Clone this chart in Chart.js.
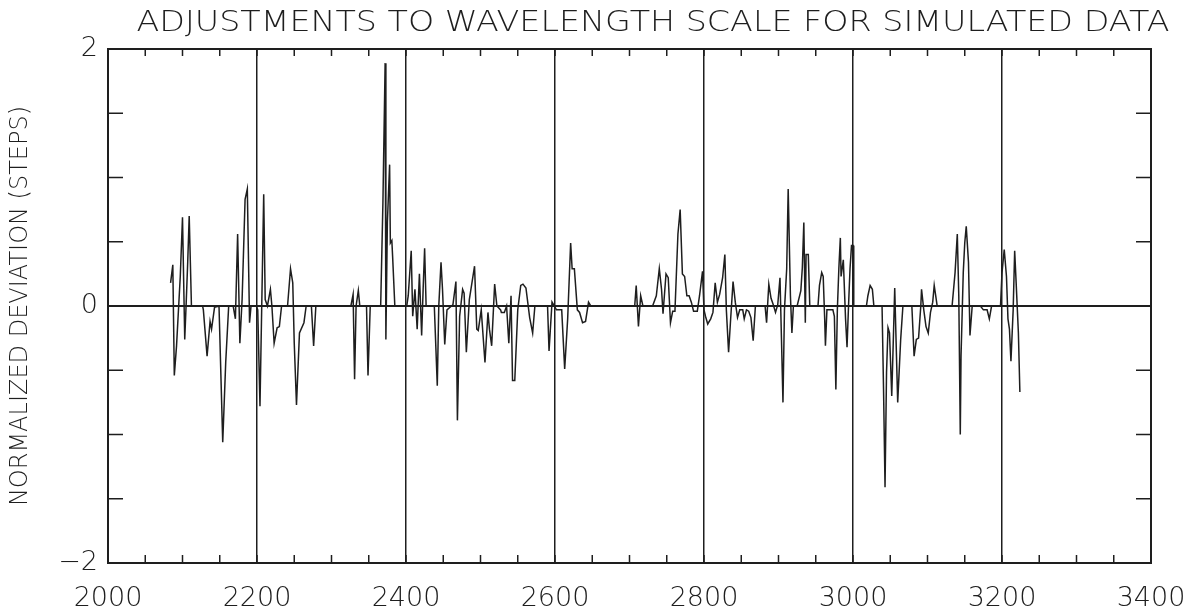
<!DOCTYPE html>
<html>
<head>
<meta charset="utf-8">
<script src="https://cdn.jsdelivr.net/npm/chart.js@4/dist/chart.umd.min.js"></script>
<style>
  html, body { margin: 0; padding: 0; background: #fff; }
  #wrap { width: 1195px; height: 610px; position: relative; }
</style>
</head>
<body>
<div id="wrap"><canvas id="devChart"></canvas></div>
<script>
// wavelength (x) and normalized deviation in steps (y)
var wavelength = [
  2084,2087,2089,2092,2097,2100,2103,2105,2107,2109,2112,
  2127,2128,2133,2137,2139,2143,2149,2154,2158,2162,
  2168,2171,2174,2177,2180,2184,2187,2190,2192,
  2199,2201,2204,2209,2211,2214,2218,2220,2223,2227,2230,2233,
  2241,2245,2248,2250,2253,2257,2263,2266,2273,2276,2279,
  2326,2329,2331,2333,2336,2338,2347,2349,2352,
  2366,2369,2372,2373,2375,2378,2379,2381,2382,2385,
  2401,2403,2407,2409,2412,2415,2418,2421,2423,2425,2427,
  2438,2442,2444,2447,2449,2452,2455,2463,2467,2469,2472,2476,2478,2481,2485,
  2492,2495,2497,2501,2506,2510,2512,2515,2519,2522,2527,2528,2532,2535,
  2538,2541,2543,2546,2550,2554,2557,2561,2566,2570,2573,
  2590,2592,2596,2599,2602,2609,2613,2617,2621,2623,2626,2630,2633,2637,2641,2645,2648,
  2707,2709,2712,2715,2718,2731,2736,2740,2743,2745,2749,2752,2755,2758,2761,
  2765,2768,2771,2774,2777,2780,2783,2786,2791,2794,2798,2800,2802,2805,2809,
  2812,2815,2818,2821,2825,2828,2830,2833,2836,2839,2842,2845,2848,2852,2854,
  2857,2860,2863,2866,2869,
  2882,2884,2887,2890,2893,2896,2899,2902,2904,2906,2908,2911,2913,2916,2918,
  2920,2925,2930,2932,2934,2936,2937,2940,2942,
  2953,2955,2958,2960,2962,2963,2965,2973,2975,2977,2979,2981,2983,2984,2987,
  2990,2992,2994,2996,2998,3000,3001,
  3018,3020,3023,3026,3028,3039,3041,3043,3045,3047,3049,3052,3054,3056,3058,
  3060,3064,3067,3079,3082,3085,3088,3091,3092,3095,3098,3101,3104,3107,3109,
  3111,3113,
  3133,3137,3140,3142,3144,3145,3148,3150,3152,3155,3157,3160,3171,3175,3180,
  3183,3186,3198,3200,3203,3206,3208,3210,3212,3215,3217,3219,3222,3224
];
var deviation = [
  0.18,0.32,-0.54,-0.31,0.23,0.69,-0.26,0.03,0.34,0.70,0,
  0,-0.03,-0.39,-0.12,-0.18,-0.01,0,-1.06,-0.44,0,
  0,-0.10,0.56,-0.29,0.05,0.83,0.91,-0.13,0,
  0,-0.03,-0.78,0.87,0.05,0,0.13,0,-0.29,-0.17,-0.16,0,
  0,0.29,0.18,-0.29,-0.77,-0.21,-0.13,0,0,-0.31,0,
  0,0.09,-0.57,0,0.12,0,0,-0.54,0,
  0,0.80,1.89,-0.26,0.65,1.10,0.49,0.51,0.39,0,
  0,0.08,0.43,-0.08,0.13,-0.18,0.25,-0.23,0.13,0.45,0,
  0,-0.62,0,0.34,0.13,-0.30,-0.03,0.01,0.19,-0.89,-0.08,0.13,0.10,-0.36,0.05,
  0.31,-0.18,-0.19,-0.03,-0.44,-0.05,-0.18,-0.31,0.17,0,-0.03,-0.05,-0.05,0,
  -0.29,0.08,-0.58,-0.58,-0.03,0.16,0.17,0.14,-0.09,-0.21,0,
  0,-0.35,0.03,0,-0.03,-0.03,-0.49,-0.10,0.49,0.29,0.29,-0.03,-0.05,-0.13,-0.12,0.03,0,
  0,0.16,-0.16,0.08,0,0,0.08,0.29,0.13,-0.06,0.25,0.22,-0.13,-0.04,-0.04,
  0.56,0.75,0.25,0.23,0.08,0.08,0.03,-0.04,-0.04,0.08,0.27,-0.03,-0.08,-0.14,-0.10,
  -0.05,0.18,0.03,0.09,0.22,0.40,-0.03,-0.36,-0.08,0.19,0.03,-0.09,-0.03,-0.03,-0.10,
  -0.03,-0.04,-0.09,-0.27,0,
  0,-0.13,0.17,0.06,0.01,-0.05,0.01,0.22,-0.26,-0.75,-0.03,0.29,0.91,0.08,-0.21,
  0,0,0.12,0.30,0.65,-0.13,0.40,0.40,0,
  0,0.16,0.26,0.23,-0.10,-0.31,-0.03,-0.03,-0.08,-0.65,-0.03,0.29,0.53,0.23,0.36,
  -0.10,-0.32,0,0.29,0.47,0.47,0,
  0,0.08,0.16,0.13,0,0,-0.65,-1.41,-0.52,-0.17,-0.21,-0.70,-0.29,0.14,-0.31,
  -0.75,-0.26,0,0,-0.39,-0.26,-0.25,0,0.13,-0.03,-0.16,-0.21,-0.05,0.03,0.16,
  0.08,0,
  0,0.26,0.56,0.08,-1.00,-0.39,0.26,0.49,0.62,0.34,-0.23,0,0,-0.03,-0.03,
  -0.10,0,0,0.26,0.44,0.23,-0.10,-0.18,-0.43,-0.03,0.43,0.18,-0.21,-0.67
];

var xRange = [2000, 3400];
var yRange = [-2, 2];
var xMinorTicks = [];   // small ticks every 50 on top and bottom
for (var t = 2050; t < 3400; t += 50) xMinorTicks.push(t);
var yMinorTicks = [-1.5, -1, -0.5, 0.5, 1, 1.5];

var titleText = "ADJUSTMENTS TO WAVELENGTH SCALE FOR SIMULATED DATA";
var yTitle = "NORMALIZED DEVIATION (STEPS)";

var ink = "#1e1e1e";
var fontFamily = "'DejaVu Sans', sans-serif";

var points = [];
for (var i = 0; i < wavelength.length; i++) {
  points.push({ x: wavelength[i], y: deviation[i] });
}

// frame, inward ticks and title
var framePlugin = {
  id: "frame",
  afterDatasetsDraw: function(chart) {
    var ctx = chart.ctx;
    var a = chart.chartArea;
    var xs = chart.scales.x, ys = chart.scales.y;
    ctx.save();
    ctx.strokeStyle = ink;
    ctx.lineWidth = 1.5;
    ctx.beginPath();
    xMinorTicks.forEach(function(v) {
      var px = xs.getPixelForValue(v);
      ctx.moveTo(px, a.bottom); ctx.lineTo(px, a.bottom - 8);
      ctx.moveTo(px, a.top); ctx.lineTo(px, a.top + 7);
    });
    yMinorTicks.forEach(function(v) {
      var py = ys.getPixelForValue(v);
      ctx.moveTo(a.left, py); ctx.lineTo(a.left + 15, py);
      ctx.moveTo(a.right, py); ctx.lineTo(a.right - 15, py);
    });
    ctx.stroke();
    ctx.lineWidth = 2;
    ctx.strokeRect(a.left, a.top, a.right - a.left, a.bottom - a.top);
    ctx.restore();
  },
  afterDraw: function(chart) {
    var ctx = chart.ctx;
    ctx.save();
    ctx.fillStyle = ink;
    ctx.font = "200 29px " + fontFamily;
    ctx.textAlign = "center";
    ctx.textBaseline = "alphabetic";
    var w = ctx.measureText(titleText).width;
    var scaleX = 1033 / w;
    ctx.translate(653, 31);
    ctx.scale(scaleX, 1);
    ctx.fillText(titleText, 0, 0);
    ctx.restore();
  }
};

var ctx = document.getElementById("devChart");
var chart = new Chart(ctx, {
  type: "scatter",
  data: {
    datasets: [{
      data: points,
      showLine: true,
      borderColor: ink,
      borderWidth: 1.5,
      pointRadius: 0,
      tension: 0
    }]
  },
  options: {
    responsive: true,
    maintainAspectRatio: false,
    animation: false,
    events: [],
    layout: { padding: { top: 49, right: 44, left: 0, bottom: 0 } },
    plugins: {
      legend: { display: false },
      title: { display: false },
      tooltip: { enabled: false }
    },
    scales: {
      x: {
        type: "linear",
        min: xRange[0],
        max: xRange[1],
        afterFit: function(s) {
          s.height = 47;
          s.paddingLeft = 0;
          s.paddingRight = 0;
        },
        ticks: {
          stepSize: 200,
          padding: 20,
          color: ink,
          font: { family: fontFamily, size: 27, weight: "200" },
          callback: function(v) { return String(v); }
        },
        grid: {
          drawTicks: false,
          color: ink,
          lineWidth: 1.5
        },
        border: { display: true, color: ink, width: 2 }
      },
      y: {
        min: yRange[0],
        max: yRange[1],
        afterFit: function(s) {
          s.width = 108;
          s.paddingTop = 0;
          s.paddingBottom = 0;
        },
        ticks: {
          stepSize: 2,
          padding: 10,
          color: ink,
          font: { family: fontFamily, size: 27, weight: "200" },
          callback: function(v) { return v < 0 ? "\u2212" + Math.abs(v) : String(v); }
        },
        grid: {
          drawTicks: false,
          lineWidth: 2,
          color: function(c) { return c.tick && c.tick.value === 0 ? ink : "rgba(0,0,0,0)"; }
        },
        border: { display: true, color: ink, width: 2 },
        title: {
          display: true,
          text: yTitle,
          color: ink,
          font: { family: fontFamily, size: 24, weight: "200" },
          padding: { top: 6, bottom: 0 }
        }
      }
    }
  },
  plugins: [framePlugin]
});
</script>
</body>
</html>
